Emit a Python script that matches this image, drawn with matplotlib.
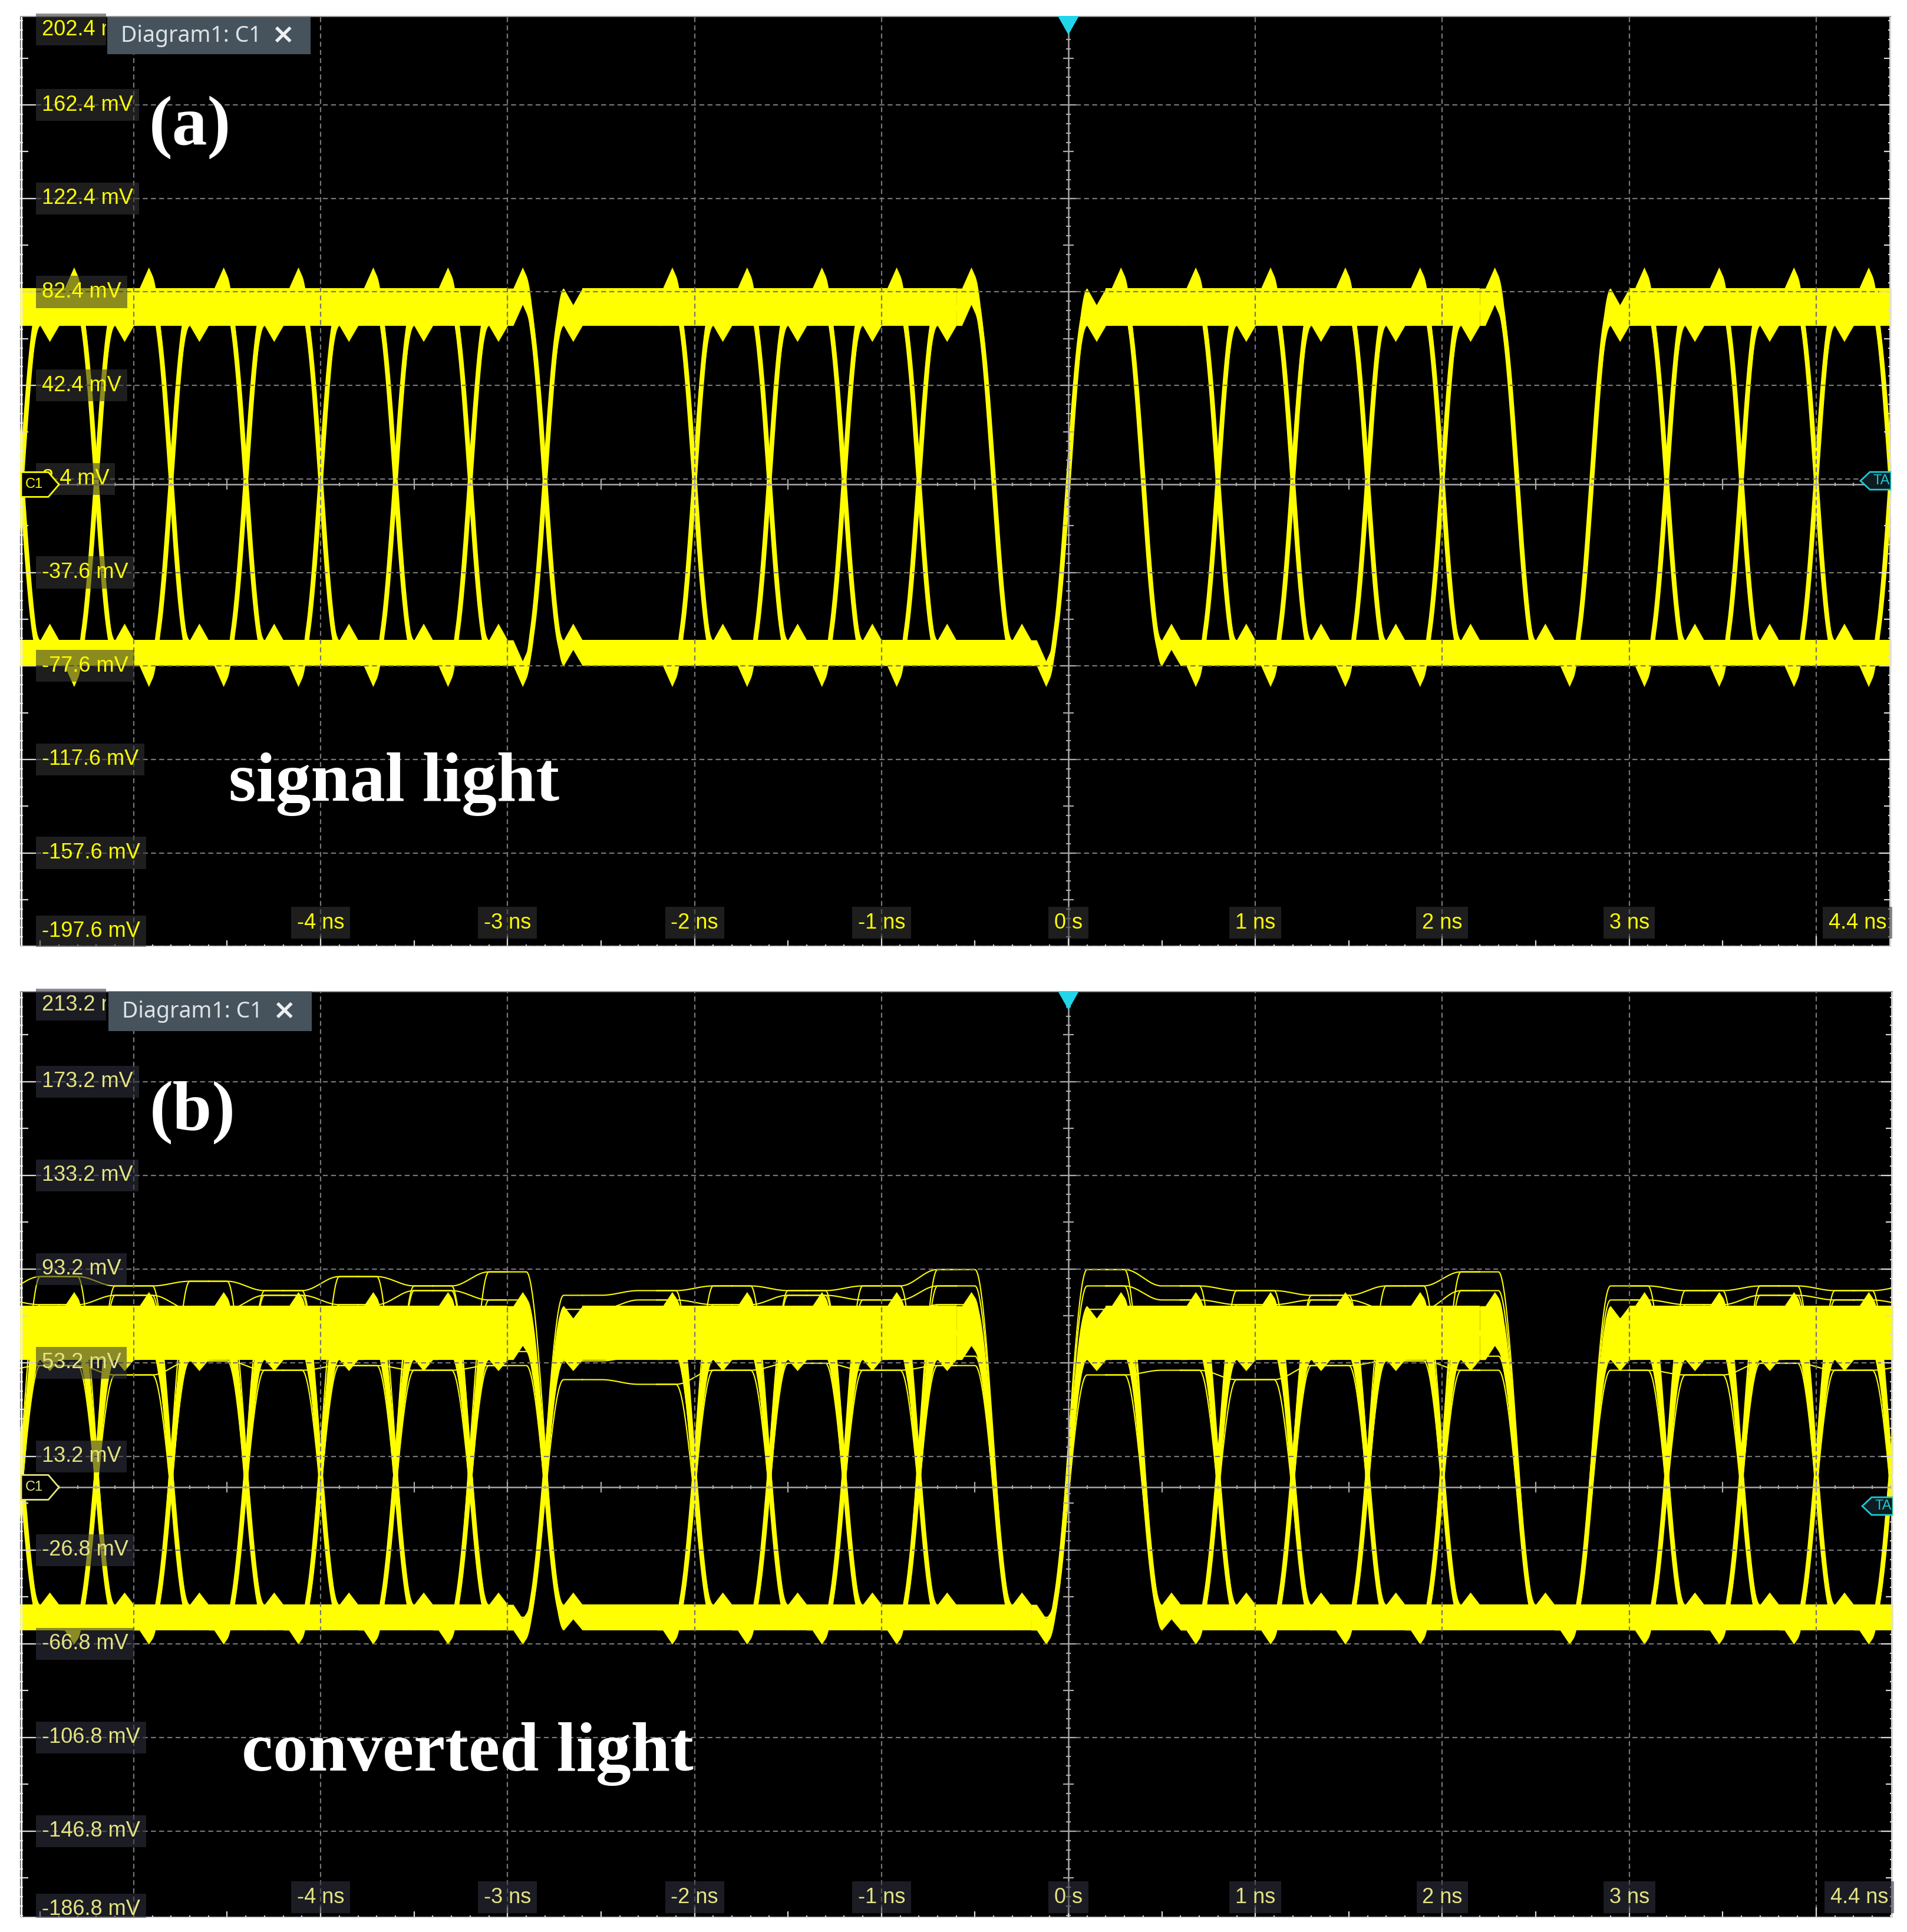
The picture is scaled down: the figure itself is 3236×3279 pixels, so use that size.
import numpy as np
import matplotlib
matplotlib.use("Agg")
import matplotlib.pyplot as plt
from matplotlib.collections import LineCollection
from matplotlib.patches import Polygon, Rectangle

plt.rcParams['lines.scale_dashes'] = False

W, H = 3237, 3279
fig = plt.figure(figsize=(W / 100, H / 100), dpi=100, facecolor='white')

# ---------------- values ----------------
BIT = 0.4              # ns per bit slot
EDGE = 0.2             # rise / fall time on screen, ns
first_boundary = -5.6  # ns, bit boundary at the left screen edge

# transitions present at each bit boundary (h = high level, l = low level)
boundary_codes = [
    "hh hl lh ll", "hh hl lh ll", "hh hl lh ll", "hh hl lh ll",
    "hh hl lh ll", "hh hl lh ll", "hh hl lh ll",
    "hl lh", "hh ll",
    "hh hl lh ll", "hh hl lh ll", "hh hl lh ll", "hh hl lh ll",
    "hl ll", "lh", "hh hl",
    "hh hl lh ll", "hh hl lh ll", "hh hl lh ll", "hh hl lh ll",
    "hl ll", "lh ll",
    "hh hl lh ll", "hh hl lh ll", "hh hl lh ll", "hh hl lh ll",
]

time_ticks = [-4, -3, -2, -1, 0, 1, 2, 3]
time_labels = ["-4 ns", "-3 ns", "-2 ns", "-1 ns", "0 s", "1 ns", "2 ns", "3 ns"]
time_end_label = "4.4 ns"

# panel (a): signal light
a_box = (34, 27, 3209, 1607)          # pixel box l, t, r, b
a_xlim = (-5.608, 4.401)
a_ylim = (-197.8, 200.5)
a_levels_mv = [202.4, 162.4, 122.4, 82.4, 42.4, 2.4, -37.6, -77.6, -117.6, -157.6, -197.6]
a_level_labels = ["202.4 mV", "162.4 mV", "122.4 mV", "82.4 mV", "42.4 mV", "2.4 mV",
                  "-37.6 mV", "-77.6 mV", "-117.6 mV", "-157.6 mV", "-197.6 mV"]
a_high, a_low = 76.0, -72.0
a_trig_mv = 1.6

# panel (b): converted light
b_box = (34, 1682, 3212, 3255)
b_xlim = (-5.608, 4.410)
b_ylim = (-183.8, 211.9)
b_levels_mv = [213.2, 173.2, 133.2, 93.2, 53.2, 13.2, -26.8, -66.8, -106.8, -146.8, -186.8]
b_level_labels = ["213.2 mV", "173.2 mV", "133.2 mV", "93.2 mV", "53.2 mV", "13.2 mV",
                  "-26.8 mV", "-66.8 mV", "-106.8 mV", "-146.8 mV", "-186.8 mV"]
b_high, b_low = 66.0, -55.5
b_trig_mv = -8.0
# scattered high-level traces of (b): one value per bit slot, slots -1 .. 25
# (slots 13 and 20 hold only the low level)
b_hi_up1 = [84, 90, 86, 88, 84, 90, 86, 92, 82, 84, 86, 84, 86, 93, None,
            93, 86, 84, 82, 86, 92, None, 86, 84, 86, 84, 86]
b_hi_up2 = [80, 78, 82, 76, 82, 78, 84, 80, 76, 80, 78, 82, 80, 86, None,
            86, 80, 78, 80, 76, 84, None, 80, 78, 82, 80, 78]
b_hi_mid = [72, 70, 74, 70, 72, 74, 70, 76, 70, 72, 70, 74, 72, 78, None,
            76, 72, 70, 74, 72, 76, None, 72, 74, 70, 72, 74]
b_hi_dn2 = [58, 56, 60, 56, 58, 60, 56, 58, 54, 56, 58, 56, 58, 56, None,
            56, 58, 60, 56, 58, 56, None, 56, 60, 56, 58, 56]
b_hi_dn1 = [50, 52, 48, 54, 50, 52, 50, 52, 46, 44, 50, 53, 50, 52, None,
            48, 50, 46, 52, 54, 50, None, 50, 48, 53, 50, 52]

YEL = '#ffff00'
GRID = '#767676'
AXC = '#a9a9a9'
LBL_FONT = ['Liberation Sans', 'DejaVu Sans']
TAB_LEFT = 182   # pixel x where the "Diagram1" tab starts


def make_axes(box, xlim, ylim):
    l, t, r, b = box
    ax = fig.add_axes([l / W, 1 - b / H, (r - l) / W, (b - t) / H])
    ax.set_facecolor('black')
    ax.set_xlim(xlim)
    ax.set_ylim(ylim)
    ax.set_xticks([])
    ax.set_yticks([])
    for s in ax.spines.values():
        s.set_visible(False)
    px = (xlim[1] - xlim[0]) / (r - l)
    py = (ylim[1] - ylim[0]) / (b - t)
    return ax, px, py


def tri(t, c, hw):
    return np.clip(1 - np.abs(t - c) / hw, 0, None)


def edge_segment(j, ya, yb):
    tb = first_boundary + j * BIT
    t = np.linspace(tb - BIT / 2, tb + BIT / 2, 161)
    s = np.clip((t - tb) / EDGE, -0.5, 0.5)
    y = ya + (yb - ya) * 0.5 * (1 + np.sin(np.pi * s))
    return t, y, tb


def draw_traces(ax, hi, lo, hw_hi, hw_lo, bump, ring, lw):
    for j, code in enumerate(boundary_codes):
        for c in code.split():
            ya = hi if c[0] == 'h' else lo
            yb = hi if c[1] == 'h' else lo
            t, y, tb = edge_segment(j, ya, yb)
            if c[0] != c[1]:
                sgn = 1 if c[0] == 'h' else -1
                y = y + sgn * bump * tri(t, tb - 0.12, 0.05) + sgn * ring * tri(t, tb + 0.15, 0.05)
            frac = np.clip((y - lo) / (hi - lo), 0, 1)
            hw = hw_lo + (hw_hi - hw_lo) * frac
            ax.fill_between(t, y - hw, y + hw, color=YEL, lw=0, zorder=3)
            ax.plot(t, y, color=YEL, lw=lw, solid_capstyle='butt', zorder=3)


def draw_thin(ax, levels, lo, lw):
    # levels[k] is the high value in slot k-1
    for j, code in enumerate(boundary_codes):
        for c in code.split():
            if c == 'll':
                continue
            ya = levels[j] if c[0] == 'h' else lo
            yb = levels[j + 1] if c[1] == 'h' else lo
            if ya is None or yb is None:
                continue
            t, y, tb = edge_segment(j, ya, yb)
            ax.plot(t, y, color=YEL, lw=lw, zorder=3)


def draw_graticule(ax, xlim, ylim, px, py, grid_base):
    x0, x1 = xlim
    y0, y1 = ylim
    gvals = [g for g in grid_base + 40 * np.arange(-6, 7) if y0 < g < y1]
    for g in gvals:
        ax.axhline(g, color=GRID, lw=1.6, dashes=(6, 4), zorder=5)
    for tn in range(-5, 5):
        if tn != 0:
            ax.axvline(tn, color=GRID, lw=1.6, dashes=(6, 4), zorder=5)
    ax.axhline(0, color=AXC, lw=1.8, zorder=6)
    ax.axvline(0, color=AXC, lw=1.8, zorder=6)

    segs_c, segs_w = [], []
    # ticks on the centre lines and on the bottom ruler, every 0.1 ns
    for k in range(-56, 45):
        tt = k / 10
        big = (k % 5 == 0)
        h = (9 if big else 3) * py
        segs_c.append([(tt, -h), (tt, h)])
        hb = (18 if k % 10 == 0 else (11 if big else 4)) * py
        segs_w.append([(tt, y0), (tt, y0 + hb)])
    # ticks on the vertical centre line and on left / right rulers, every 4 mV
    for k in range(-60, 61):
        mv = grid_base + 4 * k
        if not (y0 < mv < y1):
            continue
        if k % 10 == 0:
            hc, hl, hr = 13, 27, 20
        elif k % 5 == 0:
            hc, hl, hr = 9, 14, 12
        else:
            hc, hl, hr = 4, 5, 5
        segs_c.append([(-hc * px, mv), (hc * px, mv)])
        segs_w.append([(x0, mv), (x0 + hl * px, mv)])
        segs_w.append([(x1 - hr * px, mv), (x1, mv)])
    ax.add_collection(LineCollection(segs_c, colors=AXC, linewidths=1.6, zorder=6))
    ax.add_collection(LineCollection(segs_w, colors='#d9d9d9', linewidths=1.6, zorder=6))
    # outer rulers
    ax.plot([x0 + 1.5 * px] * 2, [y0, y1], color='#f0f0f0', lw=2.4, zorder=7)
    ax.plot([x1 - 1.5 * px] * 2, [y0, y1], color='#e0e0e0', lw=2.0, zorder=7)
    ax.plot([x0, x1], [y0 + 1.5 * py] * 2, color='#d8d8d8', lw=2.0, zorder=7)
    ax.plot([x0, x1], [y1 - 1 * py] * 2, color='#9a9a9a', lw=1.4, zorder=7)


def draw_labels(ax, xlim, ylim, px, py, values, texts, tcol, boxc, top_off, bot_off, xlab_off):
    x0, x1 = xlim
    y0, y1 = ylim
    for i, (v, s) in enumerate(zip(values, texts)):
        y = min(max(v, y0 + bot_off * py), y1 - top_off * py)
        txt = ax.text(x0 + 37 * px, y, s, color=tcol, fontsize=26, family=LBL_FONT,
                      ha='left', va='center', zorder=8, clip_on=True,
                      bbox=dict(boxstyle='square,pad=0.27', fc=boxc, ec='none'))
        if i == 0:
            # the top label runs under the "Diagram1" tab
            txt.set_clip_path(Rectangle((0, 0), (TAB_LEFT - 2) / W, 1, transform=fig.transFigure))
    yl = y0 + xlab_off * py
    for tt, s in zip(time_ticks, time_labels):
        ax.text(tt, yl, s, color=tcol, fontsize=26, family=LBL_FONT,
                ha='center', va='center', zorder=8,
                bbox=dict(boxstyle='square,pad=0.27', fc=boxc, ec='none'))
    ax.text(x1 - 8 * px, yl, time_end_label, color=tcol, fontsize=26, family=LBL_FONT,
            ha='right', va='center', zorder=8,
            bbox=dict(boxstyle='square,pad=0.27', fc=boxc, ec='none'))


def draw_markers(ax, xlim, ylim, px, py, trig_mv, tcol):
    x0, x1 = xlim
    y1 = ylim[1]
    # channel marker at 0 V
    pts = [(x0 + 2 * px, 21 * py), (x0 + 48 * px, 21 * py), (x0 + 66 * px, 0),
           (x0 + 48 * px, -21 * py), (x0 + 2 * px, -21 * py)]
    ax.add_patch(Polygon(pts, closed=True, fc='black', ec=tcol, lw=2, zorder=9))
    ax.text(x0 + 24 * px, 0, "C1", color=tcol, fontsize=17, family=LBL_FONT,
            ha='center', va='center', zorder=10)
    # trigger level marker on the right edge
    pts = [(x1 - 52 * px, trig_mv), (x1 - 36 * px, trig_mv + 15 * py), (x1, trig_mv + 15 * py),
           (x1, trig_mv - 15 * py), (x1 - 36 * px, trig_mv - 15 * py)]
    ax.add_patch(Polygon(pts, closed=True, fc='#0c1c20', ec='#1fc8d8', lw=2, zorder=9, clip_on=True))
    ax.text(x1 - 30 * px, trig_mv, "TA", color='#1fc8d8', fontsize=17, family=LBL_FONT,
            ha='left', va='center', zorder=10, clip_on=True)
    # trigger position marker on top
    pts = [(-18 * px, y1), (18 * px, y1), (0, y1 - 32 * py)]
    ax.add_patch(Polygon(pts, closed=True, fc='#22d6ea', ec='none', zorder=10))


def diagram_tab(l, t, r, b):
    fig.add_artist(Rectangle((l / W, 1 - b / H), (r - l) / W, (b - t) / H,
                             transform=fig.transFigure, fc='#46535d', ec='none', zorder=10))
    yc = 1 - (t + b) / 2 / H
    fig.text((l + 23) / W, yc, "Diagram1: C1", color='#dde2e5', fontsize=27,
             family=['Noto Sans', 'DejaVu Sans'], ha='left', va='center', zorder=11)
    fig.text((l + 298) / W, yc, "\u00d7", color='#eef0f2', fontsize=34, weight='bold',
             family=['DejaVu Sans'], ha='center', va='center', zorder=11)


# ---------------- panel (a) ----------------
ax_a, pxa, pya = make_axes(a_box, a_xlim, a_ylim)
draw_traces(ax_a, a_high, a_low, 8.0, 5.5, 9.0, 7.0, 5.8)
draw_graticule(ax_a, a_xlim, a_ylim, pxa, pya, 2.4)
draw_labels(ax_a, a_xlim, a_ylim, pxa, pya, a_levels_mv, a_level_labels,
            YEL, (0.21, 0.21, 0.21, 0.57), 23, 26, 41)
draw_markers(ax_a, a_xlim, a_ylim, pxa, pya, a_trig_mv, YEL)

# ---------------- panel (b) ----------------
ax_b, pxb, pyb = make_axes(b_box, b_xlim, b_ylim)
draw_traces(ax_b, b_high, b_low, 11.5, 5.5, 6.0, 5.0, 5.8)
for lev in (b_hi_up1, b_hi_up2, b_hi_mid, b_hi_dn2, b_hi_dn1):
    draw_thin(ax_b, lev, b_low, 1.5)
draw_graticule(ax_b, b_xlim, b_ylim, pxb, pyb, 13.2)
draw_labels(ax_b, b_xlim, b_ylim, pxb, pyb, b_levels_mv, b_level_labels,
            '#e4e482', (0.2, 0.2, 0.26, 0.57), 23, 14, 35)
draw_markers(ax_b, b_xlim, b_ylim, pxb, pyb, b_trig_mv, '#e4e482')

diagram_tab(TAB_LEFT, 29, 527, 92)
diagram_tab(TAB_LEFT + 2, 1683, 529, 1750)

# panel captions
serif = dict(color='white', fontsize=86, weight='bold', family=['Liberation Serif', 'DejaVu Serif'],
             ha='center', va='baseline', zorder=12)
fig.text(322 / W, 1 - 245 / H, "(a)", **serif)
fig.text(327 / W, 1 - 1917 / H, "(b)", **serif)
fig.text(669 / W, 1 - 1359 / H, "signal light", **serif)
fig.text(793 / W, 1 - 3005 / H, "converted light", **serif)

fig.savefig("out.png", dpi=100, facecolor='white')
